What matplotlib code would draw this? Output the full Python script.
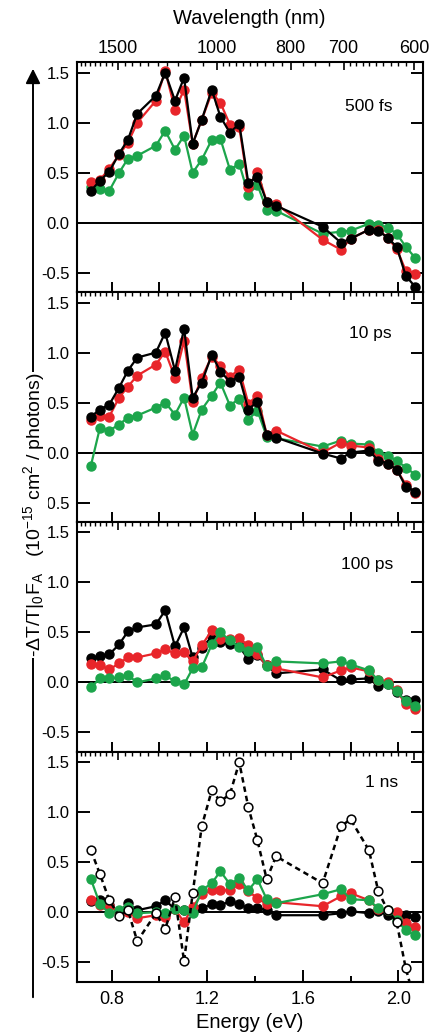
import numpy as np
import matplotlib
matplotlib.use("Agg")
import matplotlib.pyplot as plt
from matplotlib.patches import FancyArrowPatch

plt.rcParams['font.family'] = ['Liberation Sans', 'DejaVu Sans']
plt.rcParams['mathtext.default'] = 'regular'
plt.rcParams['axes.unicode_minus'] = False

# ---- data ----
energy = [0.713, 0.751, 0.790, 0.831, 0.868, 0.907, 0.985, 1.024, 1.065, 1.103,
          1.139, 1.177, 1.219, 1.255, 1.295, 1.334, 1.372, 1.410, 1.449, 1.488,
          1.683, 1.760, 1.800, 1.877, 1.916, 1.955, 1.993, 2.031, 2.070]

panel_labels = ["500 fs", "10 ps", "100 ps", "1 ns"]

black_500fs = [0.32, 0.42, 0.51, 0.69, 0.83, 1.09, 1.27, 1.50, 1.22, 1.45, 0.79, 1.03, 1.33, 1.06, 0.90,
               0.99, 0.40, 0.46, 0.21, 0.17, -0.04, -0.20, -0.16, -0.07, -0.08, -0.15, -0.24, -0.53, -0.64]
red_500fs = [0.41, 0.43, 0.54, 0.68, 0.80, 1.00, 1.22, 1.52, 1.13, 1.33, 0.79, 1.03, 1.30, 1.20, 0.98,
             0.96, 0.36, 0.51, 0.21, 0.19, -0.17, -0.27, -0.16, -0.07, -0.07, -0.15, -0.26, -0.48, -0.51]
green_500fs = [0.36, 0.34, 0.32, 0.50, 0.64, 0.67, 0.77, 0.92, 0.73, 0.87, 0.50, 0.63, 0.83, 0.84, 0.53,
               0.59, 0.28, 0.38, 0.13, 0.12, -0.11, -0.09, -0.08, -0.01, -0.02, -0.05, -0.11, -0.24, -0.35]

black_10ps = [0.36, 0.43, 0.48, 0.65, 0.82, 0.95, 1.00, 1.20, 0.82, 1.24, 0.55, 0.70, 0.98, 0.81, 0.71,
              0.76, 0.43, 0.51, 0.18, 0.15, -0.01, -0.06, 0.00, 0.02, -0.08, -0.11, -0.17, -0.34, -0.39]
red_10ps = [0.33, 0.37, 0.36, 0.55, 0.66, 0.77, 0.88, 1.01, 0.75, 1.12, 0.51, 0.75, 0.96, 0.87, 0.76,
            0.83, 0.49, 0.57, 0.18, 0.22, 0.00, 0.10, 0.07, 0.05, -0.06, -0.11, -0.17, -0.32, -0.40]
green_10ps = [-0.13, 0.25, 0.22, 0.28, 0.35, 0.37, 0.45, 0.50, 0.38, 0.55, 0.18, 0.43, 0.57, 0.70, 0.47,
              0.54, 0.33, 0.42, 0.16, None, 0.06, 0.12, 0.09, 0.08, 0.00, -0.03, -0.08, -0.15, -0.22]

black_100ps = [0.24, 0.26, 0.28, 0.38, 0.51, 0.55, 0.58, 0.72, 0.36, 0.55, 0.25, 0.34, 0.46, 0.40, 0.38,
               0.36, 0.23, 0.27, 0.17, 0.09, 0.13, 0.02, 0.03, 0.04, -0.04, -0.02, -0.10, -0.18, -0.18]
red_100ps = [0.18, 0.17, 0.13, 0.19, 0.25, 0.25, 0.29, 0.33, 0.29, 0.30, 0.21, 0.37, 0.52, 0.43, 0.43,
             0.44, 0.37, 0.28, 0.17, 0.14, 0.05, 0.12, 0.15, 0.11, 0.02, 0.00, -0.08, -0.22, -0.27]
green_100ps = [-0.05, 0.04, 0.04, 0.05, 0.07, 0.00, 0.04, 0.07, 0.01, -0.02, 0.14, 0.15, 0.38, 0.50, 0.42,
               0.35, 0.31, 0.35, 0.16, 0.21, 0.19, 0.21, 0.18, 0.12, 0.02, -0.02, -0.09, -0.19, -0.24]

black_1ns = [0.11, 0.12, 0.07, 0.00, 0.09, 0.02, 0.06, 0.12, 0.03, 0.02, 0.01, 0.04, 0.08, 0.07, 0.11,
             0.08, 0.04, 0.04, 0.02, -0.03, -0.03, -0.01, 0.01, -0.01, 0.01, -0.03, -0.03, -0.03, -0.05]
red_1ns = [0.12, 0.07, 0.06, 0.00, 0.00, -0.06, -0.03, -0.05, 0.03, -0.10, 0.05, 0.18, 0.22, 0.22, 0.22,
           0.28, 0.21, 0.14, 0.08, 0.10, 0.06, 0.16, 0.19, 0.12, 0.03, 0.02, 0.00, -0.11, -0.15]
green_1ns = [0.33, 0.08, -0.01, 0.02, 0.05, -0.01, 0.00, -0.01, 0.03, 0.02, -0.01, 0.22, 0.29, 0.41, 0.28,
             0.34, 0.22, 0.33, 0.13, 0.09, 0.18, 0.23, 0.13, 0.12, 0.04, 0.02, -0.08, -0.18, -0.23]
open_1ns = [0.62, 0.38, 0.12, -0.04, 0.02, -0.29, -0.01, -0.17, 0.15, -0.49, 0.19, 0.86, 1.22, 1.11, 1.18,
            1.50, 1.05, 0.72, 0.33, 0.56, 0.29, 0.86, 0.93, 0.62, 0.21, 0.02, -0.10, -0.56, -0.90]

y_ticks = [-0.5, 0.0, 0.5, 1.0, 1.5]
wl_major = [1500, 1000, 800, 700, 600]
wl_minor = ([1850, 1800, 1750, 1700, 1650, 1600, 1550, 1450, 1400, 1350, 1300, 1250, 1200, 1150, 1100, 1050]
            + [980, 960, 940, 920, 900, 880, 860, 840, 820]
            + [775, 750, 725]
            + [690, 680, 670, 660, 650, 640, 630, 620, 610])

RED = '#e8252a'
GREEN = '#1ca54b'
HC = 1239.84


def draw_series(ax, values, color, z):
    e = np.array(energy)
    v = np.array([np.nan if x is None else x for x in values], dtype=float)
    m = ~np.isnan(v)
    ax.plot(e[m], v[m], '-o', color=color, lw=1.6, ms=6.5, mec=color, mfc=color, zorder=z)


W, H = 430, 1032
fig = plt.figure(figsize=(W / 100, H / 100), dpi=100)

left_px, right_px = 76.7, 422.7
edges = [62.3, 292.2, 522.0, 751.9, 981.7]
xlim = (0.6535, 2.102)
ylim = (-0.695, 1.604)

panels = [
    (black_500fs, red_500fs, green_500fs, 'front'),
    (black_10ps, red_10ps, green_10ps, 'front'),
    (black_100ps, red_100ps, green_100ps, 'back'),
    (black_1ns, red_1ns, green_1ns, 'back'),
]
label_pos = [(0.914, 0.806), (0.911, 0.822), (0.914, 0.817), (0.929, 0.869)]

for i, (blk, red, grn, order) in enumerate(panels):
    top, bot = edges[i], edges[i + 1]
    ax = fig.add_axes([left_px / W, 1 - bot / H, (right_px - left_px) / W, (bot - top) / H])
    ax.set_xlim(*xlim)
    ax.set_ylim(*ylim)
    ax.axhline(0, color='black', lw=1.4, zorder=1)

    if order == 'front':
        draw_series(ax, grn, GREEN, 2)
        draw_series(ax, red, RED, 3)
        draw_series(ax, blk, 'black', 4)
    else:
        draw_series(ax, blk, 'black', 2)
        draw_series(ax, red, RED, 3)
        draw_series(ax, grn, GREEN, 4)

    if i == 3:
        e = np.array(energy)
        ax.plot(e, open_1ns, color='black', lw=1.8, ls=(0, (2.2, 1.6)), marker='o', ms=6.3,
                mfc='white', mec='black', mew=1.1, zorder=5)

    for s in ax.spines.values():
        s.set_linewidth(1.5)

    ax.set_yticks(y_ticks)
    ax.set_yticklabels([f"{t:.1f}" for t in y_ticks])
    ax.tick_params(axis='y', which='major', direction='in', left=True, right=True,
                   length=9, width=1.4, labelsize=12, pad=5)

    if i == 3:
        ax.set_xticks([0.8, 1.2, 1.6, 2.0])
        ax.set_xticks([1.0, 1.4, 1.8], minor=True)
        ax.set_xticklabels(["0.8", "1.2", "1.6", "2.0"])
        ax.tick_params(axis='x', which='major', direction='in', top=False, length=8.5, width=1.4,
                       labelsize=13, pad=7)
        ax.tick_params(axis='x', which='minor', direction='in', top=False, length=4.5, width=1.4)
    else:
        ax.set_xticks([0.8, 1.0, 1.2, 1.4, 1.6, 1.8, 2.0])
        ax.tick_params(axis='x', which='major', direction='in', top=False, length=7.5, width=1.4,
                       labelbottom=False)

    # wavelength ticks along the top edge
    ax2 = ax.twiny()
    ax2.set_xlim(*xlim)
    ax2.set_xticks([HC / w for w in wl_major])
    ax2.set_xticks([HC / w for w in wl_minor], minor=True)
    ax2.set_xticklabels([str(w) for w in wl_major])
    ax2.tick_params(axis='x', which='major', direction='in', length=6, width=1.2,
                    labeltop=(i == 0), labelsize=13, pad=4)
    ax2.tick_params(axis='x', which='minor', direction='in', length=3, width=1.0)
    for s in ax2.spines.values():
        s.set_visible(False)

    lx, ly = label_pos[i]
    ax.text(lx, ly, panel_labels[i], transform=ax.transAxes, ha='right', va='center', fontsize=12.5)

fig.text(249.7 / W, 1 - 19 / H, "Wavelength (nm)", ha='center', va='center', fontsize=14.5)
fig.text(249.7 / W, 1 - 1022 / H, "Energy (eV)", ha='center', va='center', fontsize=14.5)

arrow = FancyArrowPatch((33 / W, 1 - 1000 / H), (33 / W, 1 - 66 / H), transform=fig.transFigure,
                        arrowstyle='-|>', mutation_scale=22, lw=1.4, color='black')
fig.add_artist(arrow)
fig.text(34 / W, 1 - 515 / H, r"-$\Delta$T/T|$_0$F$_A$   (10$^{-15}$ cm$^2$ / photons)",
         rotation=90, ha='center', va='center', fontsize=14,
         bbox=dict(facecolor='white', edgecolor='none', pad=0.5))

fig.savefig("out.png", dpi=100)
